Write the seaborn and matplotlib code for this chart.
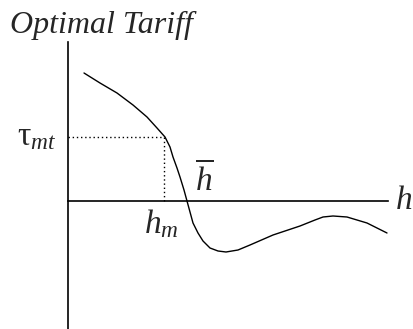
import matplotlib
matplotlib.use("Agg")
import matplotlib.pyplot as plt
import pandas as pd
import seaborn as sns

# curve (h, optimal tariff), arbitrary units
h = [16, 32, 49, 65, 79, 89, 97, 102, 105, 109, 112, 116, 119, 122,
     125, 130, 135, 142, 150, 158, 170, 182, 205, 232, 247, 255, 265,
     279, 289, 299, 309, 319]
tariff = [128, 118, 108, 96, 84, 73, 64, 54, 44, 33, 24, 11, 0, -11,
          -22, -32, -40, -47, -50, -51, -49, -44, -34, -25, -19, -16, -15,
          -16, -19, -22, -27, -32]

h_m = 96
tau_mt = 64
h_bar = 119

df = pd.DataFrame({"h": h, "tariff": tariff})

sns.set_style("white")
plt.rcParams["mathtext.fontset"] = "custom"
plt.rcParams["mathtext.rm"] = "Liberation Serif"
plt.rcParams["mathtext.it"] = "Liberation Serif:italic"
plt.rcParams["font.family"] = ["Liberation Serif", "DejaVu Serif"]

fig = plt.figure(figsize=(4.14, 3.29), dpi=100)
ax = fig.add_axes([0, 0, 1, 1])

sns.lineplot(data=df, x="h", y="tariff", color="black", linewidth=1.0,
             ax=ax, sort=False)

# dotted guide lines to tau_mt and h_m
ax.plot([0, h_m], [tau_mt, tau_mt], color="black", linestyle=(0, (1, 2)), linewidth=1.0)
ax.plot([h_m, h_m], [0, tau_mt], color="black", linestyle=(0, (1, 2)), linewidth=1.0)

ax.set_xlim(-68, 346)
ax.set_ylim(-128, 201)

for side in ["top", "right"]:
    ax.spines[side].set_visible(False)
ax.spines["left"].set_position(("data", 0))
ax.spines["bottom"].set_position(("data", 0))
ax.spines["left"].set_bounds(-128, 159)
ax.spines["bottom"].set_bounds(0, 320)
for side in ["left", "bottom"]:
    ax.spines[side].set_linewidth(1.2)
    ax.spines[side].set_color("black")
ax.set_xticks([])
ax.set_yticks([])
ax.set_xlabel("")
ax.set_ylabel("")

ax.text(-58, 168, "Optimal Tariff", fontsize=23, style="italic",
        ha="left", va="baseline")
ax.text(-31, tau_mt, r"$\mathrm{\tau}_{mt}$", fontsize=24, ha="center", va="center")
ax.text(h_m - 3, -6, r"$h_m$", fontsize=24, ha="center", va="top")
ax.text(h_bar + 17, 4, r"$\overline{h}$", fontsize=24, ha="center", va="bottom")
ax.text(336, 0, r"$h$", fontsize=24, ha="center", va="center")

fig.savefig("out.png", dpi=100)
